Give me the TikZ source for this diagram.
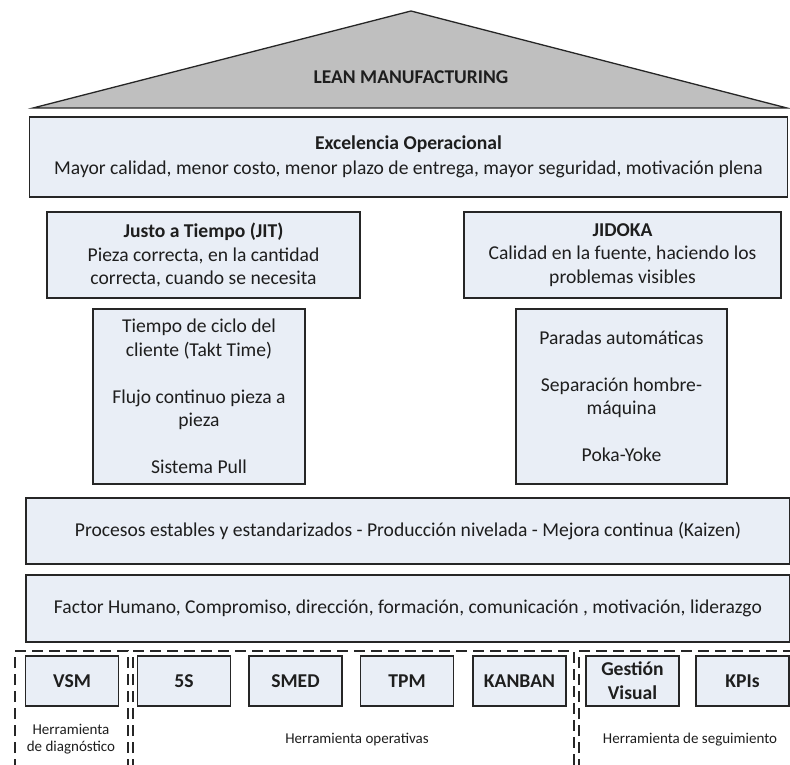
\documentclass[tikz,border=0pt]{standalone}
\usepackage{fontspec}
\setmainfont{Carlito}
\definecolor{boxfill}{HTML}{E9EEF6}
\definecolor{roofgray}{HTML}{BFBFBF}
\definecolor{edge}{HTML}{262626}
\definecolor{ink}{HTML}{1E1E1E}
\begin{document}
\begin{tikzpicture}[x=1pt,y=-1pt,
  panel/.style={draw=edge, fill=boxfill, line width=1.3pt, inner sep=0pt,
    align=center, text=ink, font=\fontsize{19.6}{23.5}\selectfont},
  tool/.style={panel, minimum width=93pt, minimum height=50pt,
    font=\bfseries\fontsize{19.6}{24}\selectfont},
  group/.style={draw=edge, line width=1.2pt, dash pattern=on 11pt off 6pt},
  caption/.style={text=ink, align=center, font=\fontsize{15}{17}\selectfont}]
\useasboundingbox (0,0) rectangle (790,765);
\fill[white] (0,0) rectangle (790,765);

% roof
\draw[edge, fill=roofgray, line width=1.3pt, line join=miter] (33,108) -- (411,11) -- (787,108) -- cycle;
\node[text=ink, font=\bfseries\fontsize{19.5}{22}\selectfont] (lean) at (411,77) {LEAN MANUFACTURING};

% top beam
\node[panel, minimum width=758pt, minimum height=80pt] (exc) at (408.5,157)
  {{\bfseries Excelencia Operacional}\\[1.5pt] Mayor calidad, menor costo, menor plazo de entrega, mayor seguridad, motivación plena};

% pillar heads
\node[panel, minimum width=313pt, minimum height=86pt] (jit) at (203.5,255)
  {{\bfseries Justo a Tiempo (JIT)}\\ Pieza correcta, en la cantidad\\ correcta, cuando se necesita};
\node[panel, minimum width=317pt, minimum height=86pt] (jidoka) at (622.5,255)
  {{\bfseries JIDOKA}\\ Calidad en la fuente, haciendo los\\ problemas visibles};

% pillars
\node[panel, minimum width=212pt, minimum height=175pt] (jitcol) at (199,396.5)
  {Tiempo de ciclo del\\ cliente (Takt Time)\\[23.5pt] Flujo continuo pieza a\\ pieza\\[23.5pt] Sistema Pull};
\node[panel, minimum width=211pt, minimum height=175pt] (jidcol) at (621.5,396.5)
  {Paradas automáticas\\[23.5pt] Separación hombre-\\ máquina\\[23.5pt] Poka-Yoke};

% base layers
\node[panel, minimum width=764pt, minimum height=66pt] (proc) at (408,531)
  {Procesos estables y estandarizados - Producción nivelada - Mejora continua (Kaizen)};
\node[panel, minimum width=764pt, minimum height=67pt] (human) at (408,608.5)
  {Factor Humano, Compromiso, dirección, formación, comunicación , motivación, liderazgo};

% tool groups
\draw[group] (15,770) |- (128,651) -- (128,770);
\draw[group] (133,770) |- (574,651) -- (574,770);
\draw[group] (579,770) |- (800,651);

% tools
\node[tool] (vsm) at (72,681) {VSM};
\node[tool] (s5) at (184,681) {5S};
\node[tool] (smed) at (295.5,681) {SMED};
\node[tool] (tpm) at (407,681) {TPM};
\node[tool] (kanban) at (519.5,681) {KANBAN};
\node[tool] (gv) at (632.5,681) {Gestión\\ Visual};
\node[tool] (kpi) at (742.5,681) {KPIs};

% group captions
\node[caption] (diag) at (71,739.5) {Herramienta\\ de diagnóstico};
\node[caption] (oper) at (357,740) {Herramienta operativas};
\node[caption] (segu) at (690,740) {Herramienta de seguimiento};
\end{tikzpicture}
\end{document}
